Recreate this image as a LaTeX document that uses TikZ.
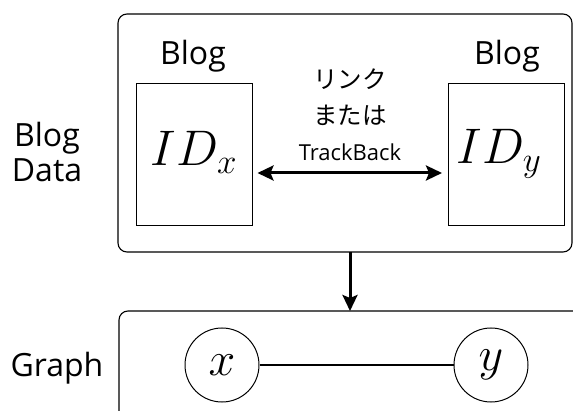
\RequirePackage{fix-cm}
\documentclass[tikz,border=0pt]{standalone}
\usepackage{fontspec}
\setmainfont{Open Sans}
\newfontfamily\jpfont{Noto Sans CJK JP}
\usetikzlibrary{arrows.meta}
\begin{document}
\begin{tikzpicture}[x=1pt,y=-1pt,
  panel/.style={draw,line width=1.1pt,rounded corners=9pt},
  blogbox/.style={draw,line width=1pt,minimum width=116pt,minimum height=142pt,inner sep=0pt},
  vtx/.style={draw,circle,line width=1pt,minimum size=74pt,inner sep=0pt,font=\fontsize{48}{48}\selectfont},
  lbl/.style={font=\fontsize{32}{34}\selectfont,anchor=base,inner sep=0pt},
  mid/.style={font=\fontsize{22}{24}\selectfont,anchor=base,inner sep=0pt},
  jp/.style={font=\jpfont\fontsize{24.5}{26}\selectfont,anchor=base,inner sep=0pt},
  idtxt/.style={font=\fontsize{50}{50}\selectfont,anchor=base,inner sep=0pt},
  tip/.tip={Stealth[length=16pt,width=15pt,inset=3pt]},
  bigarrow/.style={line width=3pt,-tip},
  twoway/.style={line width=3pt,tip-tip}
]
\useasboundingbox (0,0) rectangle (573,411);
\clip (0,0) rectangle (573,411);

% panels
\draw[panel] (118,14) rectangle (572,252);
\draw[panel] (119,311) rectangle (620,460);
\coordinate (topbot) at (350,252);
\coordinate (bottop) at (350,311);

% side labels
\node[lbl] (lblblog) at (47,147) {Blog};
\node[lbl] (lbldata) at (47,182) {Data};
\node[lbl] (lblgraph) at (57,377) {Graph};

% blog boxes
\node[lbl] (blogl) at (193,65) {Blog};
\node[lbl] (blogr) at (507,65) {Blog};
\node[blogbox] (idx) at (194,155) {};
\node[blogbox] (idy) at (506.5,155) {};
\node[idtxt] (idxt) at (194,166) {$ID_x$};
\node[idtxt] (idyt) at (499,164) {$ID_y$};

% link label
\node[jp] (j1) at (350,89) {リンク};
\node[jp] (j2) at (350,125) {または};
\node[mid] (j3) at (350,161) {TrackBack};

% arrows
\coordinate (la) at ([xshift=5pt]idx.east |- 0,173);
\coordinate (ra) at ([xshift=-6pt]idy.west |- 0,173);
\draw[twoway] (la) -- (ra);
\draw[bigarrow] (topbot) -- (bottop);

% graph
\node[vtx] (vx) at (222,365) {$x$};
\node[vtx] (vy) at (491,365) {$y$};
\draw[line width=1.6pt] (vx) -- (vy);
\end{tikzpicture}
\end{document}
